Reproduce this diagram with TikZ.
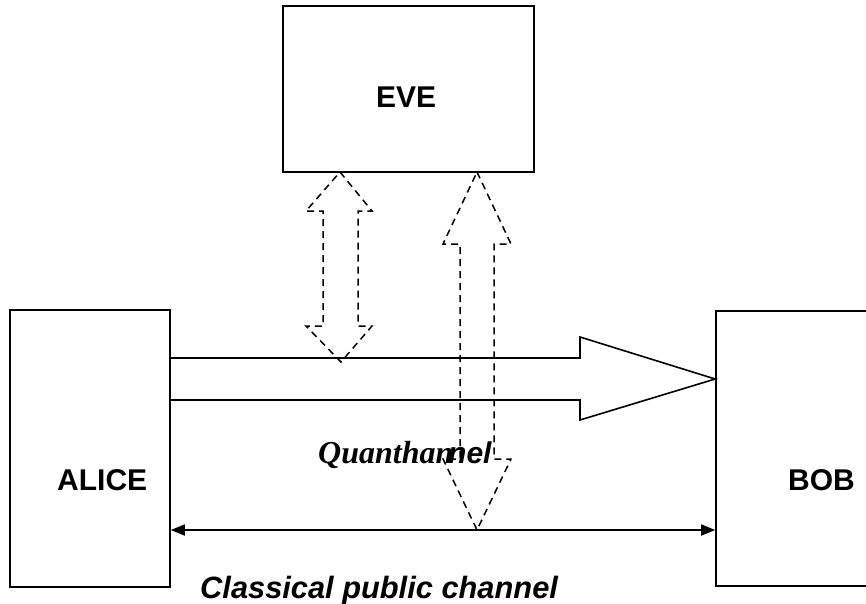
\documentclass[tikz,border=0pt]{standalone}
\usepackage{fontspec}
\setmainfont{Liberation Sans}
\newfontfamily\serifbi{Liberation Serif}
\usetikzlibrary{arrows.meta}
\begin{document}
\begin{tikzpicture}[x=1pt,y=-1pt,
  box/.style={draw,line width=1.6pt,inner sep=0pt,minimum width=#1},
  lbl/.style={inner sep=0pt,anchor=base west,font=\fontsize{30}{36}\selectfont\bfseries},
  solidline/.style={line width=1.6pt,line join=miter},
  dashline/.style={line width=1.5pt,dash pattern=on 7pt off 5pt,line join=miter},
  classic/.style={line width=1.6pt,{Triangle[length=14pt,width=11pt]}-{Triangle[length=14pt,width=11pt]}}]
\useasboundingbox (0,0) rectangle (866,604);
% boxes
\node[box=160pt,minimum height=277pt] (alice) at (90,448.5) {};
\node[box=154pt,minimum height=275pt] (bob) at (793,448.5) {};
\node[box=251pt,minimum height=166pt] (eve) at (408.5,89) {};
% labels
\node[lbl] (alicet) at (57,490) {ALICE};
\node[lbl] (bobt) at (788,490) {BOB};
\node[lbl] (evet) at (376,108) {EVE};
\node[lbl,font=\fontsize{30.8}{36}\selectfont\bfseries\itshape] (classt) at (200,598) {Classical public channel};
\node[lbl,font=\fontsize{32}{36}\selectfont\serifbi\bfseries\itshape] (q1) at (318,463) {Quanthan};
\node[lbl,font=\fontsize{30}{36}\selectfont\bfseries\itshape] (q2) at (448,463) {nel};
% quantum channel (block arrow)
\coordinate (qtop) at (0,358);
\coordinate (qbot) at (0,400);
\coordinate (qtip) at (0,379);
\draw[solidline] (alice.east |- qtop) -- (580,358) -- (580,337) -- (bob.west |- qtip)
  -- (580,420) -- (580,400) -- (alice.east |- qbot);
% classical channel
\coordinate (cy) at (0,530);
\draw[classic] (bob.west |- cy) -- (alice.east |- cy);
% Eve's dashed double arrows
\coordinate (e1) at (340,172);
\coordinate (e2) at (477,172);
\draw[dashline] (e1) -- (372,211) -- (358,211) -- (358,326) -- (372,326) -- (341,362)
  -- (306,326) -- (323,326) -- (323,211) -- (306,211) -- cycle;
\coordinate (c2) at (477,530);
\draw[dashline] (e2) -- (511,244) -- (494,244) -- (494,459) -- (511,459) -- (c2)
  -- (443,459) -- (460,459) -- (460,244) -- (443,244) -- cycle;
\end{tikzpicture}
\end{document}
